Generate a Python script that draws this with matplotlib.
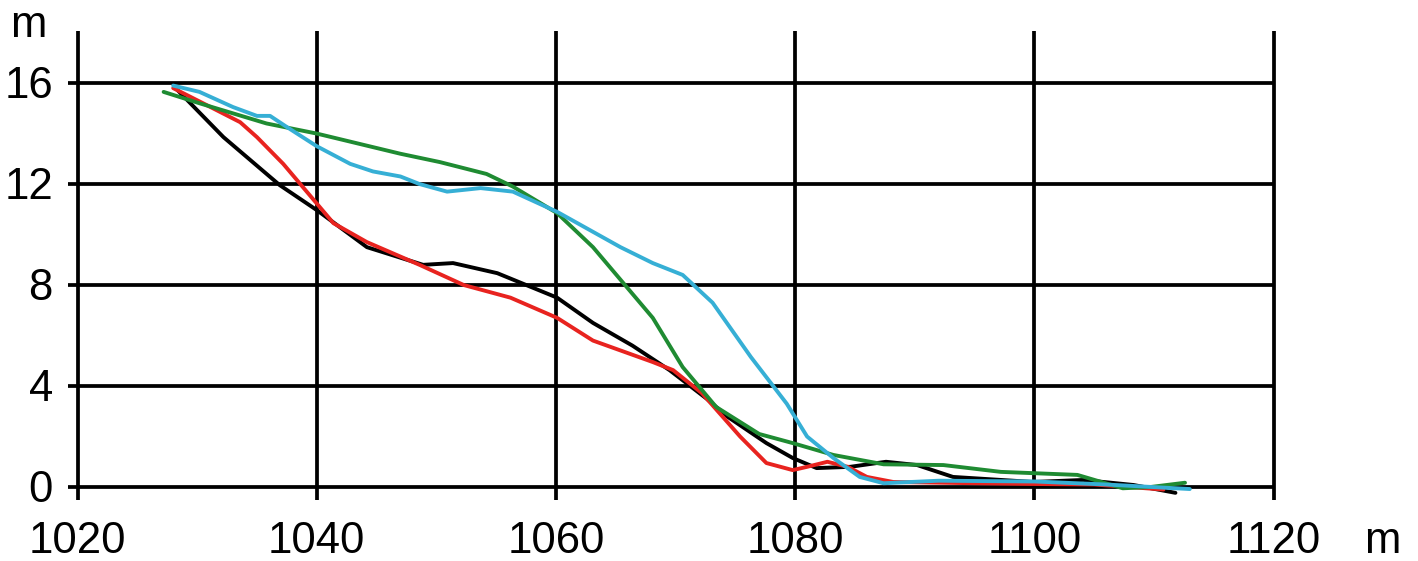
import matplotlib.pyplot as plt

# profile data (distance m, height m)
black_x = [1028.2, 1032.2, 1036.9, 1040.0, 1044.2, 1048.9, 1051.4, 1055.1, 1060.1, 1063.1,
           1066.4, 1069.5, 1072.6, 1074.3, 1077.6, 1079.8, 1081.8, 1084.6, 1087.6, 1090.2,
           1093.2, 1099.9, 1104.1, 1108.3, 1111.8]
black_y = [15.8, 13.86, 11.96, 10.97, 9.5, 8.8, 8.87, 8.47, 7.5, 6.5,
           5.6, 4.63, 3.5, 2.8, 1.74, 1.15, 0.75, 0.8, 1.0, 0.87,
           0.4, 0.2, 0.28, 0.08, -0.23]

red_x = [1028.0, 1030.5, 1033.6, 1035.0, 1037.2, 1039.7, 1041.4, 1044.2, 1048.6, 1052.3,
         1056.2, 1060.1, 1063.1, 1068.1, 1069.8, 1072.2, 1075.4, 1077.6, 1079.8, 1081.0,
         1082.7, 1084.4, 1086.0, 1088.2, 1095.0, 1100.0, 1105.0, 1110.8]
red_y = [15.8, 15.2, 14.45, 13.86, 12.8, 11.4, 10.45, 9.7, 8.8, 8.0,
         7.5, 6.7, 5.8, 4.95, 4.63, 3.72, 2.0, 0.95, 0.67, 0.8,
         1.0, 0.8, 0.4, 0.2, 0.15, 0.12, 0.1, -0.1]

cyan_x = [1028.0, 1030.2, 1033.0, 1035.0, 1036.1, 1037.5, 1040.0, 1042.8, 1044.7, 1047.0,
          1048.6, 1050.9, 1053.7, 1056.4, 1060.1, 1065.4, 1068.1, 1070.6, 1073.1, 1076.3,
          1079.3, 1081.0, 1083.2, 1085.4, 1087.4, 1092.0, 1100.0, 1106.0, 1113.0]
cyan_y = [15.9, 15.65, 15.05, 14.7, 14.7, 14.26, 13.5, 12.8, 12.5, 12.3,
          12.0, 11.7, 11.84, 11.7, 10.9, 9.5, 8.87, 8.4, 7.3, 5.15,
          3.3, 2.0, 1.15, 0.4, 0.15, 0.25, 0.22, 0.1, -0.08]

green_x = [1027.2, 1030.2, 1035.8, 1040.0, 1047.0, 1050.3, 1054.2, 1056.4, 1060.1, 1063.1,
           1065.6, 1068.1, 1070.6, 1073.4, 1077.0, 1079.8, 1083.2, 1087.4, 1092.4, 1097.2,
           1103.6, 1107.4, 1109.7, 1112.6]
green_y = [15.65, 15.2, 14.4, 14.0, 13.2, 12.87, 12.4, 11.9, 10.85, 9.5,
           8.1, 6.7, 4.75, 3.17, 2.1, 1.74, 1.27, 0.9, 0.87, 0.6,
           0.48, -0.05, 0.0, 0.17]

x_ticks = [1020, 1040, 1060, 1080, 1100, 1120]
y_ticks = [0, 4, 8, 12, 16]

fig = plt.figure(figsize=(14.18, 5.61), dpi=100)
ax = fig.add_axes([0, 0, 1, 1])
ax.set_xlim(1013.52, 1132.08)
ax.set_ylim(-2.93, 19.29)
ax.axis('off')

font = dict(family='Liberation Sans', fontsize=31.5, color='black')

# grid
ax.hlines(y_ticks, 1019.2, 1120, color='black', lw=2.7, zorder=1)
ax.vlines(x_ticks, -0.53, 18.05, color='black', lw=2.7, zorder=1)

line_kw = dict(lw=2.8, solid_joinstyle='round', solid_capstyle='round')
ax.plot(black_x, black_y, color='black', zorder=2, **line_kw)
ax.plot(red_x, red_y, color='#e8231f', zorder=3, **line_kw)
ax.plot(green_x, green_y, color='#1f8b32', zorder=4, **line_kw)
ax.plot(cyan_x, cyan_y, color='#36afd5', zorder=5, **line_kw)

for v in y_ticks:
    ax.text(1017.95, v - 0.59, str(v), ha='right', va='baseline', **font)
for v in x_ticks:
    ax.text(v, -2.61, str(v), ha='center', va='baseline', **font)
ax.text(1015.9, 17.82, 'm', ha='center', va='baseline', **font)
ax.text(1129.1, -2.61, 'm', ha='center', va='baseline', **font)

plt.savefig('out.png', dpi=100)
